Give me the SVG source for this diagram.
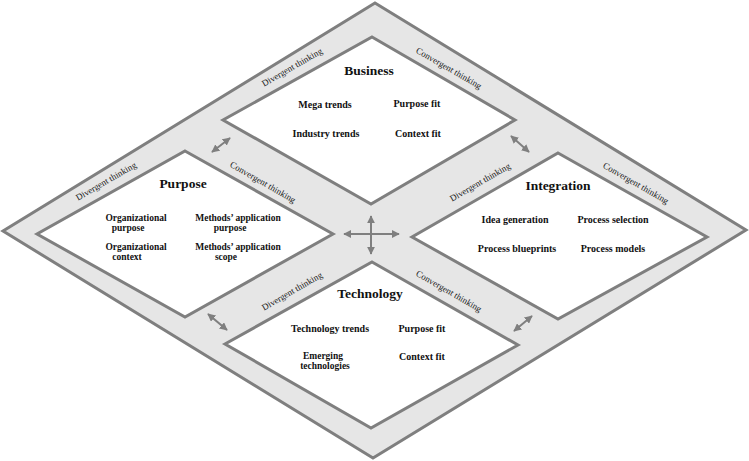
<svg xmlns="http://www.w3.org/2000/svg" width="749" height="461" viewBox="0 0 749 461">
<style>
.frame{fill:#e6e6e6;stroke:#7f7f7f;stroke-width:3;stroke-linejoin:miter}
.box{fill:#ffffff;stroke:#7f7f7f;stroke-width:3;stroke-linejoin:miter}
.title{font-family:"Liberation Serif","Times New Roman",serif;font-weight:bold;font-size:13.5px;fill:#111;text-anchor:middle}
.item{font-family:"Liberation Serif","Times New Roman",serif;font-weight:bold;font-size:10px;fill:#111;text-anchor:middle}
.item2{font-family:"Liberation Serif","Times New Roman",serif;font-weight:bold;font-size:9.5px;fill:#111;text-anchor:middle}
.band{font-family:"Liberation Serif","Times New Roman",serif;font-size:9px;fill:#222;text-anchor:middle}
.arr{fill:none;stroke:#7f7f7f;stroke-width:2;marker-start:url(#ah);marker-end:url(#ah)}
</style>
<defs>
<marker id="ah" viewBox="0 0 10 10" refX="9" refY="5" markerWidth="4" markerHeight="4" orient="auto-start-reverse" markerUnits="strokeWidth">
<path d="M0,0 L10,5 L0,10 z" fill="#7f7f7f"/>
</marker>
</defs>
<rect width="749" height="461" fill="#ffffff"/>
<g id="frame">
<polygon class="frame" points="375,3 746,230 373,458 3,231"/>
</g>
<g id="business">
<polygon class="box" points="372,37 515,120 371,204 223,120"/>
<text class="title" x="369" y="75">Business</text>
<text class="item" x="325" y="108">Mega trends</text>
<text class="item" x="417" y="107">Purpose fit</text>
<text class="item" x="326" y="137">Industry trends</text>
<text class="item" x="418" y="137">Context fit</text>
</g>
<g id="purpose">
<polygon class="box" points="185,151 333,234 185,317 37,234"/>
<text class="title" x="183" y="188">Purpose</text>
<text class="item2" x="136" y="221">Organizational</text>
<text class="item2" x="128" y="231">purpose</text>
<text class="item2" x="238" y="221">Methods’ application</text>
<text class="item2" x="230" y="231">purpose</text>
<text class="item2" x="136" y="249.5">Organizational</text>
<text class="item2" x="127" y="259.5">context</text>
<text class="item2" x="238" y="249.5">Methods’ application</text>
<text class="item2" x="226" y="259.5">scope</text>
</g>
<g id="integration">
<polygon class="box" points="558,153 707,237 558,319 412,237"/>
<text class="title" x="558" y="190">Integration</text>
<text class="item" x="515" y="223">Idea generation</text>
<text class="item" x="613" y="223">Process selection</text>
<text class="item" x="517" y="252">Process blueprints</text>
<text class="item" x="613" y="252">Process models</text>
</g>
<g id="technology">
<polygon class="box" points="372,262 518,345 371,428 225,344"/>
<text class="title" x="370" y="298">Technology</text>
<text class="item" x="330" y="332">Technology trends</text>
<text class="item" x="422" y="332">Purpose fit</text>
<text class="item2" x="323" y="358.5">Emerging</text>
<text class="item2" x="325" y="368.5">technologies</text>
<text class="item" x="422" y="360">Context fit</text>
</g>
<g id="band-labels">
<text class="band" transform="translate(292,67) rotate(-30)" dy="0.35em">Divergent thinking</text>
<text class="band" transform="translate(449,68) rotate(30)" dy="0.35em">Convergent thinking</text>
<text class="band" transform="translate(106,181) rotate(-30)" dy="0.35em">Divergent thinking</text>
<text class="band" transform="translate(263,182) rotate(30)" dy="0.35em">Convergent thinking</text>
<text class="band" transform="translate(292,291) rotate(-30)" dy="0.35em">Divergent thinking</text>
<text class="band" transform="translate(449,291) rotate(30)" dy="0.35em">Convergent thinking</text>
<text class="band" transform="translate(480,182) rotate(-30)" dy="0.35em">Divergent thinking</text>
<text class="band" transform="translate(636,183) rotate(30)" dy="0.35em">Convergent thinking</text>
</g>
<g id="connectors">
<line class="arr" x1="212" y1="152" x2="230" y2="138"/>
<line class="arr" x1="511" y1="136" x2="529" y2="152"/>
<line class="arr" x1="208" y1="314" x2="227" y2="330"/>
<line class="arr" x1="514" y1="331" x2="532" y2="316"/>
<line class="arr" x1="344" y1="234" x2="399" y2="234"/>
<line class="arr" x1="371" y1="216" x2="371" y2="254"/>
</g>
</svg>
